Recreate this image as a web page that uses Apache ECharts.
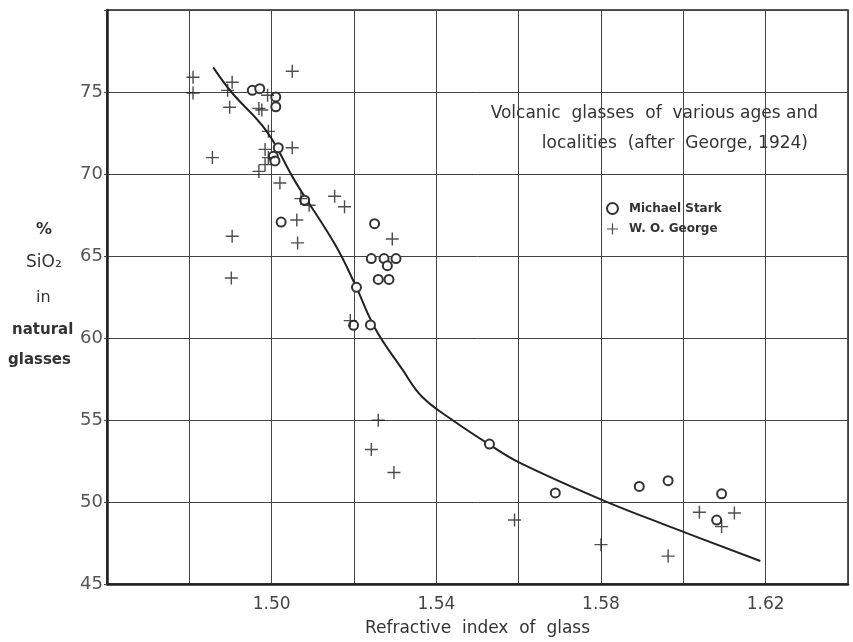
<!DOCTYPE html>
<html>
<head>
<meta charset="utf-8">
<script src="https://cdn.jsdelivr.net/npm/echarts@6/dist/echarts.min.js"></script>
<style>html,body{margin:0;padding:0;background:#fff}#c{width:853px;height:642px}</style>
</head>
<body>
<div id="c"></div>
<script>
// Michael Stark (circles): [refractive index, % SiO2]
const starkData = [
  [1.4953,75.1],[1.4971,75.2],[1.5010,74.7],[1.5010,74.1],[1.5016,71.6],
  [1.5004,71.08],[1.5008,70.8],[1.5080,68.4],[1.5023,67.07],[1.5250,66.97],
  [1.5242,64.84],[1.5273,64.84],[1.5302,64.84],[1.5281,64.41],[1.5259,63.57],
  [1.5285,63.57],[1.5206,63.09],[1.5199,60.77],[1.5240,60.8],[1.5529,53.53],
  [1.5689,50.55],[1.5893,50.95],[1.5963,51.3],[1.6093,50.5],[1.6081,48.9]
];
// W. O. George (crosses)
const georgeData = [
  [1.4809,75.9],[1.4809,74.94],[1.4904,75.6],[1.4893,75.1],[1.4898,74.07],
  [1.5050,76.26],[1.4990,74.8],[1.4969,74.0],[1.4976,73.9],[1.4992,72.6],
  [1.4984,71.5],[1.4992,71.0],[1.5050,71.6],[1.4984,70.57],[1.4969,70.16],
  [1.5020,69.45],[1.4856,71.0],[1.5071,68.5],[1.5091,68.1],[1.5153,68.64],
  [1.5177,68.0],[1.5061,67.2],[1.5063,65.8],[1.4904,66.2],[1.4902,63.66],
  [1.5293,66.04],[1.5191,61.06],[1.5259,54.99],[1.5242,53.2],[1.5297,51.8],
  [1.5590,48.9],[1.5800,47.4],[1.5963,46.7],[1.6039,49.37],[1.6124,49.33],
  [1.6093,48.5]
];
// Fitted curve
const curveData = [
  [1.4858,76.5],[1.4902,75.0],[1.4988,72.6],[1.5057,69.55],[1.5154,65.7],
  [1.5202,63.3],[1.5251,60.6],[1.5317,58.1],[1.5366,56.4],
  [1.5439,55.0],[1.5529,53.5],[1.5602,52.4],[1.5805,50.1],[1.5967,48.5],
  [1.6187,46.4]
];
const xTickLabels = ['1.50','1.54','1.58','1.62'];
const yTickLabels = ['45','50','55','60','65','70','75'];

const FONT = 'DejaVu Sans';
const plusPath = 'path://M0,8.9H20V11.1H0Z M8.9,0H11.1V20H8.9Z';

const chart = echarts.init(document.getElementById('c'), null, {renderer:'canvas'});
chart.setOption({
  animation: false,
  backgroundColor: '#fff',
  grid: {left: 107, right: 5, top: 10, bottom: 57, show: true, borderColor: '#222', borderWidth: 1.5, backgroundColor: 'transparent'},
  xAxis: {
    type: 'value', min: 1.46, max: 1.64, interval: 0.02,
    name: 'Refractive  index  of  glass', nameLocation: 'middle', nameGap: 36,
    nameTextStyle: {fontFamily: FONT, fontSize: 17, color: '#333'},
    axisLine: {show: true, lineStyle: {color: '#222', width: 2.5}},
    axisTick: {show: false},
    splitLine: {show: true, lineStyle: {color: '#444', width: 1}},
    axisLabel: {
      fontFamily: FONT, fontSize: 17, color: '#444', margin: 12,
      formatter: function (v) {
        const s = v.toFixed(2);
        return xTickLabels.indexOf(s) >= 0 ? s : '';
      }
    }
  },
  yAxis: {
    type: 'value', min: 45, max: 80, interval: 5,
    axisLine: {show: true, lineStyle: {color: '#222', width: 2.5}},
    axisTick: {show: true, length: 3, lineStyle: {color: '#444'}},
    splitLine: {show: true, lineStyle: {color: '#444', width: 1}},
    axisLabel: {
      fontFamily: FONT, fontSize: 18, color: '#555', margin: 4,
      formatter: function (v) {
        const s = String(Math.round(v));
        return yTickLabels.indexOf(s) >= 0 ? s : '';
      }
    }
  },
  legend: {
    orient: 'vertical', left: 601, top: 197, itemGap: 8, itemWidth: 11, itemHeight: 11,
    textStyle: {fontFamily: FONT, fontSize: 12, fontWeight: 'bold', color: '#333', padding: [0,0,0,6]},
    data: [
      {name: 'Michael Stark', icon: 'emptyCircle', itemStyle: {color: '#333', borderColor: '#333', borderWidth: 1.5}},
      {name: 'W. O. George', icon: plusPath, itemStyle: {color: '#222'}}
    ]
  },
  graphic: [
    {type: 'text', right: 853 - 818, top: 105, style: {text: 'Volcanic  glasses  of  various ages and', fontFamily: FONT, fontSize: 17, fill: '#333', textAlign: 'right'}},
    {type: 'text', right: 853 - 808, top: 135, style: {text: 'localities  (after  George, 1924)', fontFamily: FONT, fontSize: 17, fill: '#333', textAlign: 'right'}},
    {type: 'text', left: 36, top: 222, style: {text: '%', fontFamily: FONT, fontSize: 16, fontWeight: 'bold', fill: '#333'}},
    {type: 'text', left: 26, top: 254, style: {text: 'SiO\u2082', fontFamily: FONT, fontSize: 17, fill: '#333'}},
    {type: 'text', left: 36, top: 290, style: {text: 'in', fontFamily: FONT, fontSize: 16, fill: '#333'}},
    {type: 'text', left: 12, top: 323, style: {text: 'natural', fontFamily: FONT, fontSize: 15, fontWeight: 'bold', fill: '#333'}},
    {type: 'text', left: 8, top: 353, style: {text: 'glasses', fontFamily: FONT, fontSize: 15, fontWeight: 'bold', fill: '#333'}}
  ],
  series: [
    {
      name: 'curve', type: 'line', data: curveData, smooth: 0.4, showSymbol: false, symbol: 'none',
      lineStyle: {color: '#222', width: 2}, z: 3, silent: true
    },
    {
      name: 'Michael Stark', type: 'scatter', data: starkData, symbol: 'emptyCircle', symbolSize: 9,
      itemStyle: {color: '#333', borderWidth: 1.6, opacity: 1}, z: 4
    },
    {
      name: 'W. O. George', type: 'scatter', data: georgeData, symbol: plusPath, symbolSize: 13,
      itemStyle: {color: '#222'}, z: 5
    }
  ]
});
</script>
</body>
</html>
